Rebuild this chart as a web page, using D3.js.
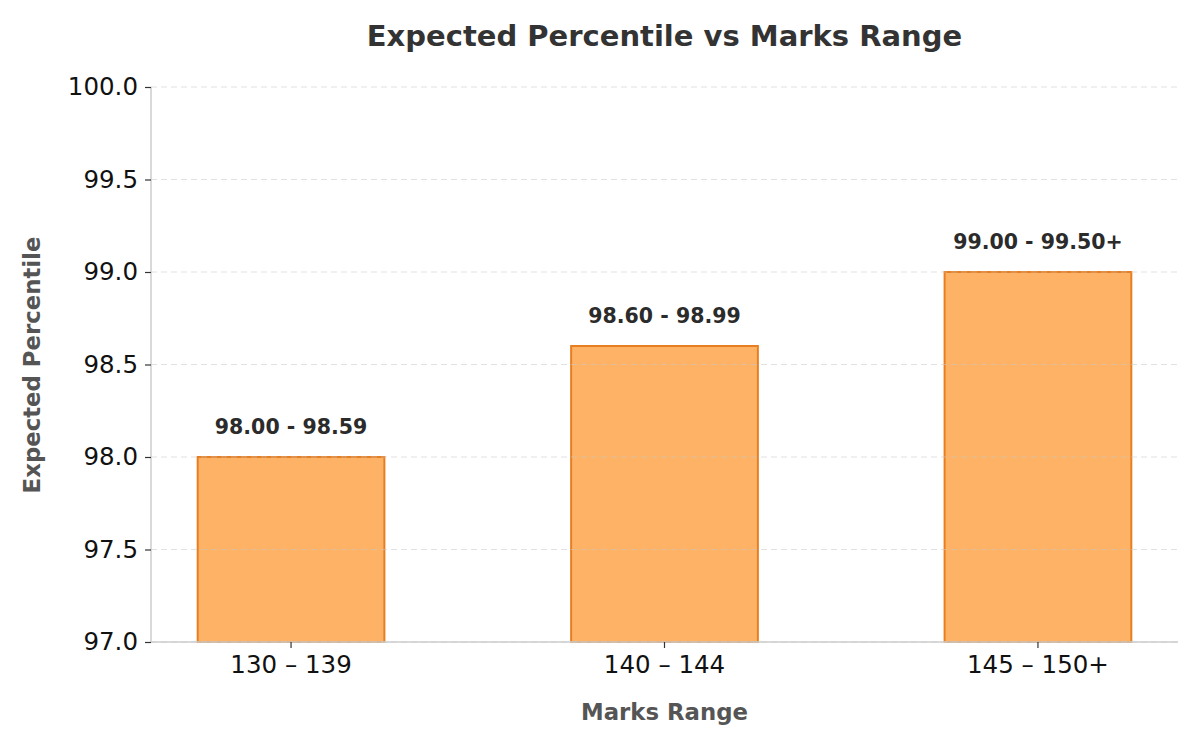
<!DOCTYPE html>
<html lang="en">
<head>
  <meta charset="UTF-8">
  <title>Expected Percentile vs Marks Range</title>
  <style>
    body { margin: 0; background: #fff; }
    svg { font-family: "DejaVu Sans", sans-serif; }
  </style>
</head>
<body>
  <svg width="1200" height="750"></svg>

  <script src="https://d3js.org/d3.v7.min.js"></script>
  <script>
    // data
    const ranges = ["130 – 139", "140 – 144", "145 – 150+"];
    const percentiles = [98.0, 98.6, 99.0];
    const barLabels = ["98.00 - 98.59", "98.60 - 98.99", "99.00 - 99.50+"];
    const yTicks = [97.0, 97.5, 98.0, 98.5, 99.0, 99.5, 100.0];

    const svg = d3.select("svg");
    const margin = {top: 87, right: 22, bottom: 108, left: 151};
    const width = 1200 - margin.left - margin.right,
          height = 750 - margin.top - margin.bottom;

    // bar width half a step, small outer margin like matplotlib
    const x = d3.scaleBand()
      .domain(ranges)
      .range([0, width])
      .paddingInner(0.5)
      .paddingOuter(0.125);

    const y = d3.scaleLinear()
      .domain([97, 100])
      .range([height, 0]);

    const g = svg.append("g")
      .attr("transform", `translate(${margin.left},${margin.top})`);

    // bars
    g.selectAll("rect.bar")
      .data(percentiles)
      .enter().append("rect")
        .attr("class", "bar")
        .attr("x", (d, i) => x(ranges[i]))
        .attr("width", x.bandwidth())
        .attr("y", d => y(d))
        .attr("height", d => y(97) - y(d))
        .attr("fill", "#fdb266")
        .attr("stroke", "#e67e22")
        .attr("stroke-width", 2);

    // grid over the bars, faint
    g.append("g")
      .selectAll("line")
      .data(yTicks)
      .enter().append("line")
        .attr("x1", 0)
        .attr("x2", width)
        .attr("y1", d => y(d))
        .attr("y2", d => y(d))
        .attr("stroke", "#c8c8c8")
        .attr("stroke-opacity", 0.55)
        .attr("stroke-dasharray", "6,4")
        .attr("stroke-width", 1.2);

    // value labels
    g.selectAll("text.val")
      .data(percentiles)
      .enter().append("text")
        .attr("class", "val")
        .attr("x", (d, i) => x(ranges[i]) + x.bandwidth() / 2)
        .attr("y", d => y(d) - 23)
        .attr("text-anchor", "middle")
        .attr("font-size", 20.5)
        .attr("font-weight", "bold")
        .attr("fill", "#2b2b2b")
        .text((d, i) => barLabels[i]);

    // axes
    const yAxis = g.append("g")
      .call(d3.axisLeft(y).tickValues(yTicks).tickFormat(d3.format(".1f")).tickSize(6).tickPadding(7));
    const xAxis = g.append("g")
      .attr("transform", `translate(0,${height})`)
      .call(d3.axisBottom(x).tickSize(6).tickPadding(8));

    [yAxis, xAxis].forEach(a => {
      a.select(".domain").attr("stroke", "#cccccc").attr("stroke-width", 1.5);
      a.selectAll(".tick line").attr("stroke", "#333").attr("stroke-width", 1.2);
      a.selectAll(".tick text")
        .attr("font-size", 24.5)
        .attr("font-family", "DejaVu Sans")
        .attr("fill", "#111");
    });
    yAxis.select(".domain").attr("d", `M0,${height}V0`);
    xAxis.select(".domain").attr("d", `M0,0H${width}`);

    // title + axis labels
    svg.append("text")
      .attr("x", margin.left + width / 2)
      .attr("y", 46)
      .attr("text-anchor", "middle")
      .attr("font-size", 29)
      .attr("font-weight", "bold")
      .attr("fill", "#333")
      .text("Expected Percentile vs Marks Range");

    svg.append("text")
      .attr("x", margin.left + width / 2)
      .attr("y", 720)
      .attr("text-anchor", "middle")
      .attr("font-size", 22.8)
      .attr("font-weight", "bold")
      .attr("fill", "#555")
      .text("Marks Range");

    svg.append("text")
      .attr("transform", "translate(40,365) rotate(-90)")
      .attr("text-anchor", "middle")
      .attr("font-size", 22.8)
      .attr("font-weight", "bold")
      .attr("fill", "#555")
      .text("Expected Percentile");
  </script>
</body>
</html>
